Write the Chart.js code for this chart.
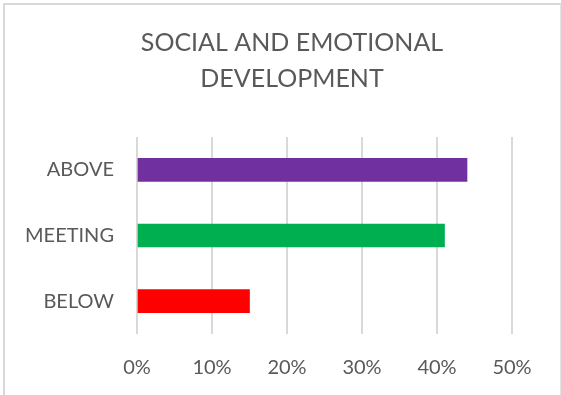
<!DOCTYPE html>
<html>
<head>
<meta charset="utf-8">
<script src="https://cdn.jsdelivr.net/npm/chart.js@4"></script>
<style>
  html, body { margin: 0; padding: 0; background: #fff; }
  #wrap { position: relative; width: 561px; height: 395px; }
  #frame {
    position: absolute; left: 3px; top: 3px; width: 555px; height: 400px;
    border-left: 2px solid #d9d9d9; border-top: 2px solid #d9d9d9; border-right: 1px solid #e3e3e3;
    pointer-events: none;
  }
</style>
</head>
<body>
<div id="wrap">
  <canvas id="chart" width="561" height="395"></canvas>
  <div id="frame"></div>
</div>
<script>
const titleLines = ['SOCIAL AND EMOTIONAL', 'DEVELOPMENT'];
const levels = ['ABOVE', 'MEETING', 'BELOW'];
const shares = [44, 41, 15];
const barColors = ['#7030a0', '#00b050', '#ff0000'];
const axisTicks = [0, 10, 20, 30, 40, 50];

const textGray = '#595959';
const font = 'Lato, "Open Sans", sans-serif';

// the title is centred over the frame, not over the padded layout area
const titleSpan = {
    id: 'titleSpan',
    afterLayout(chart) {
        chart.titleBlock.left = 23;
        chart.titleBlock.right = chart.width;
    },
};

new Chart(document.getElementById('chart'), {
    type: 'bar',
    data: {
        labels: levels,
        datasets: [{
            data: shares,
            backgroundColor: barColors,
            borderWidth: 0,
            barThickness: 23,
        }],
    },
    options: {
        indexAxis: 'y',
        responsive: false,
        animation: false,
        layout: { padding: { left: 0, right: 49, top: 0, bottom: 0 } },
        plugins: {
            legend: { display: false },
            tooltip: { enabled: false },
            title: {
                display: true,
                text: titleLines,
                color: textGray,
                font: { family: font, size: 25, weight: 'normal', lineHeight: 1.44 },
                padding: { top: 25, bottom: 40 },
            },
        },
        scales: {
            x: {
                min: axisTicks[0],
                max: axisTicks[axisTicks.length - 1],
                afterBuildTicks(scale) {
                    scale.ticks = axisTicks.map(v => ({ value: v }));
                },
                afterFit(scale) { scale.height = 61; },
                grid: { color: '#d9d9d9', lineWidth: 2, drawTicks: false },
                border: { display: false },
                ticks: {
                    color: textGray,
                    padding: 22,
                    font: { family: font, size: 20 },
                    callback: v => v + '%',
                },
            },
            y: {
                afterFit(scale) { scale.width = 137; },
                grid: { display: false, drawTicks: false },
                border: { display: false },
                ticks: {
                    color: textGray,
                    padding: 23,
                    font: { family: font, size: 20 },
                },
            },
        },
    },
    plugins: [titleSpan],
});
</script>
</body>
</html>
